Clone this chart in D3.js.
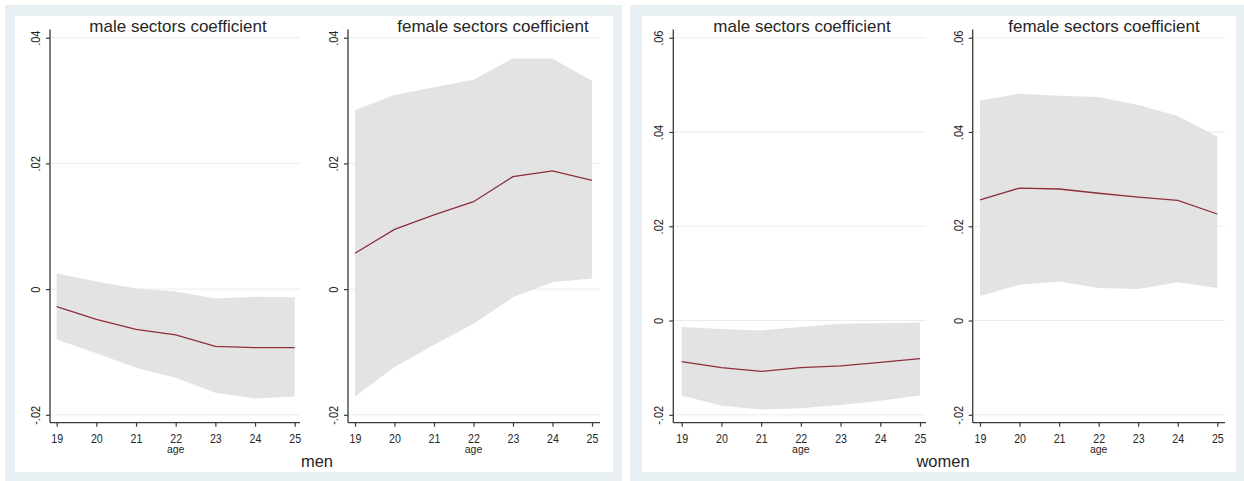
<!DOCTYPE html>
<html>
<head>
<meta charset="utf-8">
<script src="https://cdn.jsdelivr.net/npm/d3@7"></script>
<style>
  body { margin: 0; background: #ffffff; }
  text { font-family: "Liberation Sans", Arial, Helvetica, sans-serif; fill: #262626; }
</style>
</head>
<body>
<svg id="chart" width="1244" height="481"></svg>
<script>
// Ages on the horizontal axis
const ages = [19, 20, 21, 22, 23, 24, 25];

// Vertical tick values and their labels
const menTicks = [-0.02, 0, 0.02, 0.04];
const menTickLabels = ["-.02", "0", ".02", ".04"];
const womenTicks = [-0.02, 0, 0.02, 0.04, 0.06];
const womenTickLabels = ["-.02", "0", ".02", ".04", ".06"];

// Men: male sectors coefficient with 95% band
const menMaleCoef = [-0.0028, -0.0048, -0.0064, -0.0073, -0.0091, -0.0093, -0.0093];
const menMaleLo   = [-0.0080, -0.0102, -0.0125, -0.0141, -0.0165, -0.0174, -0.0171];
const menMaleHi   = [ 0.0025,  0.0012,  0.0001, -0.0004, -0.0015, -0.0012, -0.0013];

// Men: female sectors coefficient with 95% band
const menFemaleCoef = [0.0057, 0.0095, 0.0118, 0.0139, 0.0179, 0.0188, 0.0173];
const menFemaleLo   = [-0.0171, -0.0124, -0.0089, -0.0055, -0.0013, 0.0011, 0.0017];
const menFemaleHi   = [0.0285, 0.0309, 0.0321, 0.0333, 0.0367, 0.0367, 0.0331];

// Women: male sectors coefficient with 95% band
const womenMaleCoef = [-0.0087, -0.0100, -0.0108, -0.0100, -0.0096, -0.0089, -0.0081];
const womenMaleLo   = [-0.0159, -0.0181, -0.0189, -0.0186, -0.0179, -0.0170, -0.0159];
const womenMaleHi   = [-0.0014, -0.0018, -0.0021, -0.0014, -0.0007, -0.0006, -0.0004];

// Women: female sectors coefficient with 95% band
const womenFemaleCoef = [0.0256, 0.0281, 0.0279, 0.0270, 0.0262, 0.0255, 0.0226];
const womenFemaleLo   = [0.0052, 0.0076, 0.0083, 0.0069, 0.0067, 0.0081, 0.0069];
const womenFemaleHi   = [0.0467, 0.0481, 0.0477, 0.0474, 0.0457, 0.0434, 0.0390];

const svg = d3.select("#chart");

const FRAME = "#e7eff2";
const BAND = "#e3e3e3";
const LINE = "#8e2f3c";
const AXIS = "#3a3a3a";
const GRID = "#ececec";

// Outer frames and white plot areas of the two combined graphs
svg.append("rect").attr("x", 5).attr("y", 5).attr("width", 617).attr("height", 476).attr("fill", FRAME);
svg.append("rect").attr("x", 15).attr("y", 16).attr("width", 598).attr("height", 456).attr("fill", "#ffffff");
svg.append("rect").attr("x", 630).attr("y", 5).attr("width", 614).attr("height", 476).attr("fill", FRAME);
svg.append("rect").attr("x", 642).attr("y", 16).attr("width", 594).attr("height", 456).attr("fill", "#ffffff");

const panels = [
  { title: "male sectors coefficient", titleX: 178, coef: menMaleCoef, lo: menMaleLo, hi: menMaleHi,
    ticks: menTicks, labels: menTickLabels, axisX: 50, xFirst: 56.7, xLast: 294.7, xEnd: 300, yTopPx: 37.7 },
  { title: "female sectors coefficient", titleX: 493, coef: menFemaleCoef, lo: menFemaleLo, hi: menFemaleHi,
    ticks: menTicks, labels: menTickLabels, axisX: 348, xFirst: 355, xLast: 592, xEnd: 600, yTopPx: 37.7 },
  { title: "male sectors coefficient", titleX: 802, coef: womenMaleCoef, lo: womenMaleLo, hi: womenMaleHi,
    ticks: womenTicks, labels: womenTickLabels, axisX: 673.3, xFirst: 681.7, xLast: 920, xEnd: 926, yTopPx: 37.7 },
  { title: "female sectors coefficient", titleX: 1104, coef: womenFemaleCoef, lo: womenFemaleLo, hi: womenFemaleHi,
    ticks: womenTicks, labels: womenTickLabels, axisX: 972.7, xFirst: 980, xLast: 1217.3, xEnd: 1225, yTopPx: 37.7 }
];

const axisY = 422.7;      // horizontal axis line
const yBottomPx = 414.8;  // position of the lowest tick (-.02)
const axisTop = 29.5;

panels.forEach(p => {
  const g = svg.append("g");
  const x = d3.scaleLinear().domain([ages[0], ages[ages.length - 1]]).range([p.xFirst, p.xLast]);
  const y = d3.scaleLinear().domain([p.ticks[0], p.ticks[p.ticks.length - 1]]).range([yBottomPx, p.yTopPx]);

  // grid lines
  g.selectAll("line.grid").data(p.ticks).join("line")
    .attr("x1", p.axisX).attr("x2", p.xEnd)
    .attr("y1", d => y(d)).attr("y2", d => y(d))
    .attr("stroke", GRID).attr("stroke-width", 1);

  const rows = ages.map((a, i) => ({ age: a, coef: p.coef[i], lo: p.lo[i], hi: p.hi[i] }));

  // confidence band
  g.append("path").datum(rows)
    .attr("d", d3.area().x(d => x(d.age)).y0(d => y(d.lo)).y1(d => y(d.hi)))
    .attr("fill", BAND);

  // point estimate
  g.append("path").datum(rows)
    .attr("d", d3.line().x(d => x(d.age)).y(d => y(d.coef)))
    .attr("fill", "none").attr("stroke", LINE).attr("stroke-width", 1.3);

  // vertical axis
  const yAxis = g.append("g").attr("transform", `translate(${p.axisX},0)`)
    .call(d3.axisLeft(y).tickValues(p.ticks).tickSize(4).tickFormat((d, i) => p.labels[i]));
  yAxis.select(".domain").attr("d", `M0,${axisTop}V${axisY}`).attr("stroke", AXIS).attr("stroke-width", 1.3);
  yAxis.selectAll(".tick line").attr("stroke", AXIS).attr("stroke-width", 1.2);
  yAxis.selectAll(".tick text")
    .attr("x", 0).attr("y", 0).attr("dy", null)
    .attr("transform", "translate(-10,0) rotate(-90) scale(0.85,1)")
    .attr("text-anchor", "middle")
    .style("font-size", "13px").style("fill", "#262626");

  // horizontal axis
  const xAxis = g.append("g").attr("transform", `translate(0,${axisY})`)
    .call(d3.axisBottom(x).tickValues(ages).tickSize(4).tickFormat(d3.format("d")));
  xAxis.select(".domain").attr("d", `M${p.axisX},0H${p.xEnd}`).attr("stroke", AXIS).attr("stroke-width", 1.3);
  xAxis.selectAll(".tick line").attr("stroke", AXIS).attr("stroke-width", 1.2);
  xAxis.selectAll(".tick text")
    .attr("y", 0).attr("dy", null)
    .attr("transform", "translate(0,20) scale(0.85,1)")
    .style("font-size", "12.5px").style("fill", "#262626");

  // axis title
  g.append("text").attr("x", (p.xFirst + p.xLast) / 2).attr("y", 452.5)
    .attr("text-anchor", "middle").style("font-size", "10.5px").text("age");

  // panel title
  g.append("text").attr("x", p.titleX).attr("y", 32)
    .attr("text-anchor", "middle").style("font-size", "17px").text(p.title);
});

// Group captions
svg.append("text").attr("x", 317).attr("y", 467).attr("text-anchor", "middle")
  .style("font-size", "16.5px").text("men");
svg.append("text").attr("x", 943).attr("y", 467).attr("text-anchor", "middle")
  .style("font-size", "16.5px").text("women");
</script>
</body>
</html>
